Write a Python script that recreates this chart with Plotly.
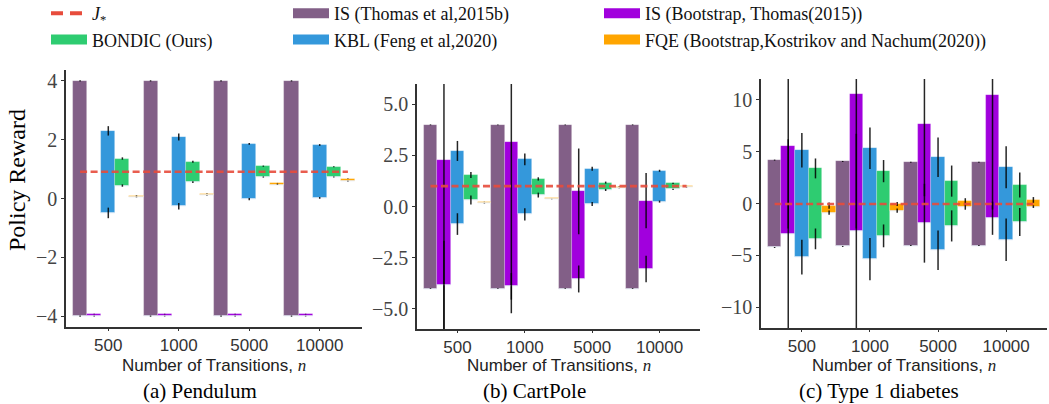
import numpy as np
import plotly.graph_objects as go

# ---------------- data ----------------
n_labels = ["500", "1000", "5000", "10000"]
methods = [
    "IS (Thomas et al,2015b)",
    "IS (Bootstrap, Thomas(2015))",
    "KBL (Feng et al,2020)",
    "BONDIC (Ours)",
    "FQE (Bootstrap,Kostrikov and Nachum(2020))",
]
jstar_name = "<i>J</i><sub>*</sub>"
env_titles = ["(a) Pendulum", "(b) CartPole", "(c) Type 1 diabetes"]

# Pendulum: rows follow `methods`, columns follow `n_labels`
pend_low = [[-4.0, -4.0, -4.0, -4.0], [-4.0, -4.0, -4.0, -4.0], [-0.49, -0.26, -0.02, 0.02],
            [0.44, 0.56, 0.73, 0.73], [0.05, 0.11, 0.47, 0.59]]
pend_high = [[4.0, 4.0, 4.0, 4.0], [-3.93, -3.93, -3.93, -3.93], [2.30, 2.09, 1.86, 1.82],
             [1.36, 1.25, 1.10, 1.08], [0.10, 0.16, 0.52, 0.67]]
pend_err_low = [[0.02, 0.02, 0.02, 0.02], [0.01, 0.01, 0.01, 0.01], [0.18, 0.11, 0.04, 0.03],
                [0.04, 0.03, 0.02, 0.02], [0.01, 0.01, 0.01, 0.01]]
pend_err_high = [[0.02, 0.02, 0.02, 0.02], [0.01, 0.01, 0.01, 0.01], [0.16, 0.12, 0.03, 0.03],
                 [0.04, 0.03, 0.02, 0.02], [0.01, 0.01, 0.01, 0.01]]
pend_jstar = 0.91

# CartPole
cart_low = [[-4.02, -4.02, -4.02, -4.02], [-3.84, -3.91, -3.55, -3.06], [-0.86, -0.38, 0.12, 0.24],
            [0.32, 0.56, 0.81, 0.84], [0.16, 0.35, 0.90, 0.94]]
cart_high = [[4.0, 4.0, 4.0, 4.0], [2.28, 3.16, 0.74, 0.29], [2.72, 2.31, 1.85, 1.75],
             [1.54, 1.35, 1.17, 1.13], [0.22, 0.41, 0.97, 1.00]]
cart_err_low = [[0.02, 0.02, 0.02, 0.02], [2.16, 0.65, 0.66, 0.65], [0.53, 0.30, 0.10, 0.05],
                [0.22, 0.12, 0.05, 0.03], [0.01, 0.01, 0.01, 0.01]]
cart_err_high = [[0.02, 0.02, 0.02, 0.02], [8.28, 8.39, 2.1, 1.35], [0.49, 0.29, 0.10, 0.05],
                 [0.15, 0.08, 0.05, 0.03], [0.01, 0.01, 0.01, 0.01]]
cart_jstar = 1.0

# Type 1 diabetes
t1d_low = [[-4.24, -4.14, -4.05, -4.05], [-2.90, -2.64, -1.90, -1.42], [-5.17, -5.36, -4.50, -3.50],
           [-3.41, -3.12, -2.16, -1.78], [-0.88, -0.69, -0.30, -0.30]]
t1d_high = [[4.18, 4.05, 3.98, 3.98], [5.58, 10.58, 7.70, 10.42], [5.14, 5.33, 4.46, 3.50],
            [3.38, 3.12, 2.16, 1.78], [-0.21, -0.05, 0.21, 0.34]]
t1d_err_low = [[0.05, 0.05, 0.05, 0.05], [9.1, 9.36, 3.8, 1.6], [1.68, 2.03, 1.90, 2.05],
               [1.00, 1.10, 1.50, 1.35], [0.20, 0.20, 0.30, 0.13]]
t1d_err_high = [[0.05, 0.05, 0.05, 0.05], [8.0, 13.0, 7.0, 11.0], [1.66, 2.00, 1.90, 2.03],
                [0.96, 1.07, 1.50, 1.20], [0.30, 0.20, 0.30, 0.28]]
t1d_jstar = -0.05

pend_yticks = [-4, -2, 0, 2, 4]
cart_yticks = [-5.0, -2.5, 0.0, 2.5, 5.0]
t1d_yticks = [-10, -5, 0, 5, 10]

# ---------------- styling ----------------
colors = ["#825f87", "#a100dd", "#3498db", "#2ecc71", "#ffa500"]
jstar_color = "#e74c3c"
legend_of = ["legend2", "legend3", "legend2", "legend", "legend3"]
rank_of = [1, 1, 2, 2, 2]
SERIF = "Liberation Serif"
SANS = "Liberation Sans"

envs = [
    (pend_low, pend_high, pend_err_low, pend_err_high, pend_jstar, pend_yticks, [-4.37, 4.37], "d"),
    (cart_low, cart_high, cart_err_low, cart_err_high, cart_jstar, cart_yticks, [-6.0, 6.0], ".1f"),
    (t1d_low, t1d_high, t1d_err_low, t1d_err_high, t1d_jstar, t1d_yticks, [-12.0, 12.0], "d"),
]

W, H = 1049, 404
x_px = [(66, 362), (417, 700), (761, 1047)]
y_px = [(70, 327), (84, 329), (79, 328)]

pos = np.arange(len(n_labels))
fig = go.Figure()

for k, (low, high, elow, ehigh, jstar, yt, yr, yfmt) in enumerate(envs):
    xa = "x" if k == 0 else f"x{k+1}"
    ya = "y" if k == 0 else f"y{k+1}"
    for m, name in enumerate(methods):
        lo = np.array(low[m], dtype=float)
        hi = np.array(high[m], dtype=float)
        fig.add_trace(go.Bar(
            x=pos, y=hi - lo, base=lo, name=name, offsetgroup=str(m), legendgroup=name,
            marker=dict(color=colors[m], line=dict(color="rgba(255,255,255,0.3)", width=0.7)),
            error_y=dict(type="data", array=ehigh[m], color="rgba(0,0,0,0.85)", thickness=1.5, width=0),
            xaxis=xa, yaxis=ya, showlegend=False, hoverinfo="skip",
        ))
        fig.add_trace(go.Bar(
            x=pos, y=np.zeros(len(pos)), base=lo, name=name, offsetgroup=str(m), legendgroup=name,
            marker=dict(color="rgba(0,0,0,0)"),
            error_y=dict(type="data", array=elow[m], color="rgba(0,0,0,0.85)", thickness=1.5, width=0),
            xaxis=xa, yaxis=ya, showlegend=False, hoverinfo="skip",
        ))
    fig.add_trace(go.Scatter(
        x=[pos[0] - 0.4, pos[-1] + 0.4], y=[jstar, jstar], mode="lines", name=jstar_name,
        legendgroup="jstar", line=dict(color=jstar_color, width=2.6, dash="7px,3.5px"), opacity=0.9,
        xaxis=xa, yaxis=ya, showlegend=False, hoverinfo="skip",
    ))

    axis_common = dict(showline=True, linecolor="#333333", linewidth=1.5,
                       showgrid=False, zeroline=False, ticks="outside", tickcolor="#333333")
    fig.update_layout({
        ("xaxis" if k == 0 else f"xaxis{k+1}"): dict(
            domain=[x_px[k][0] / W, x_px[k][1] / W], anchor=ya, range=[-0.6, 3.6],
            ticklen=2, tickvals=pos, ticktext=n_labels,
            tickfont=dict(family=SANS, size=17, color="#333333"), **axis_common),
        ("yaxis" if k == 0 else f"yaxis{k+1}"): dict(
            domain=[1 - y_px[k][1] / H, 1 - y_px[k][0] / H], anchor=xa, range=yr,
            ticklen=3, tickvals=yt, tickformat=yfmt,
            tickfont=dict(family=SERIF, size=20, color="#444444"), **axis_common),
    })
    cx = (x_px[k][0] + x_px[k][1]) / 2 / W
    fig.add_annotation(x=cx, y=1 - 365 / H, xref="paper", yref="paper", showarrow=False,
                       text="Number of Transitions, <span style='font-family:Liberation Serif'><i>n</i></span>",
                       font=dict(family=SANS, size=17, color="#222222"), xanchor="center", yanchor="middle")

# legend entries (wide colour swatches like the reference legend)
fig.add_trace(go.Scatter(x=[None], y=[None], mode="lines", name=jstar_name, legendgroup="jstar",
                         line=dict(color=jstar_color, width=4, dash="12px,7px"),
                         legend="legend", legendrank=1, hoverinfo="skip"))
for m, name in enumerate(methods):
    fig.add_trace(go.Scatter(x=[None], y=[None], mode="lines", name=name, legendgroup=name,
                             line=dict(color=colors[m], width=15),
                             legend=legend_of[m], legendrank=rank_of[m] + 1, hoverinfo="skip"))

cap_x = [200, 534, 879]
for k, t in enumerate(env_titles):
    fig.add_annotation(x=cap_x[k] / W, y=1 - 391 / H, xref="paper", yref="paper", showarrow=False,
                       text=t, font=dict(family=SERIF, size=21, color="black"),
                       xanchor="center", yanchor="middle")

fig.add_annotation(x=17 / W, y=1 - 180 / H, xref="paper", yref="paper", showarrow=False,
                   text="Policy Reward", textangle=-90, font=dict(family=SERIF, size=24, color="black"),
                   xanchor="center", yanchor="middle")

leg_common = dict(orientation="v", yanchor="top", y=1 + 5 / H, xanchor="left", bgcolor="rgba(0,0,0,0)",
                  font=dict(family=SERIF, size=18, color="#111111"), traceorder="normal",
                  tracegroupgap=0, itemwidth=36)
fig.update_layout(
    width=W, height=H, margin=dict(l=0, r=0, t=0, b=0, autoexpand=False),
    paper_bgcolor="white", plot_bgcolor="white",
    barmode="group", bargap=0, bargroupgap=0,
    legend=dict(x=46 / W, **leg_common),
    legend2=dict(x=288 / W, **leg_common),
    legend3=dict(x=599 / W, **leg_common),
)

fig.write_html("out.html", config={"displayModeBar": False},
               post_script="document.body.style.margin='0px';")
